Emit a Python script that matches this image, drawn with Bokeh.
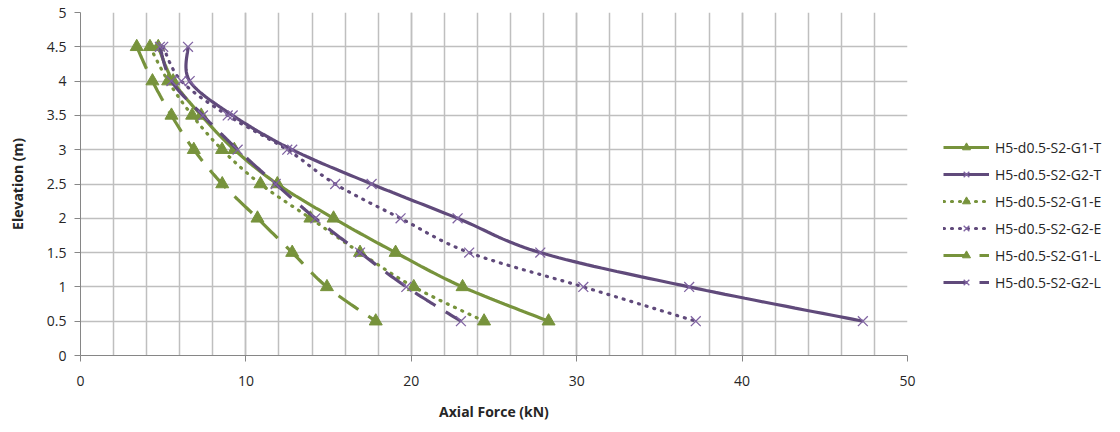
import numpy as np
from bokeh.plotting import figure
from bokeh.models import Legend, LegendItem, SingleIntervalTicker
from bokeh.embed import file_html
from bokeh.resources import INLINE

elev = [4.5, 4.0, 3.5, 3.0, 2.5, 2.0, 1.5, 1.0, 0.5]

g1_t = [4.7, 5.6, 7.3, 9.3, 11.9, 15.3, 19.05, 23.1, 28.3]
g2_t = [6.5, 6.6, 9.2, 12.8, 17.6, 22.8, 27.8, 36.8, 47.3]
g1_e = [4.2, 5.3, 6.75, 8.56, 10.88, 13.9, 16.9, 20.15, 24.4]
g2_e = [5.0, 6.1, 8.9, 12.5, 15.4, 19.35, 23.5, 30.4, 37.2]
g1_l = [3.4, 4.35, 5.5, 6.85, 8.57, 10.7, 12.8, 14.9, 17.85]
g2_l = [4.8, 5.5, 7.4, 9.5, 11.8, 14.2, 16.9, 19.7, 23.0]

labels = ["H5-d0.5-S2-G1-T", "H5-d0.5-S2-G2-T", "H5-d0.5-S2-G1-E",
          "H5-d0.5-S2-G2-E", "H5-d0.5-S2-G1-L", "H5-d0.5-S2-G2-L"]

GREEN = "#77933C"
PURPLE = "#604A7B"
XCOL = "#8064A2"
FONT = "Open Sans"


def smooth(xs, ys, n=20):
    """Bezier smoothing through the points (like a spreadsheet's smoothed line)."""
    P = np.column_stack([xs, ys]).astype(float)
    m = len(P)
    out = [P[0]]
    t = np.linspace(0, 1, n + 1)[1:, None]
    for i in range(m - 1):
        p0 = P[i - 1] if i > 0 else P[i]
        p1, p2 = P[i], P[i + 1]
        p3 = P[i + 2] if i + 2 < m else P[i + 1]
        c1 = p1 + (p2 - p0) / 6.0
        c2 = p2 - (p3 - p1) / 6.0
        seg = ((1 - t) ** 3) * p1 + 3 * ((1 - t) ** 2) * t * c1 + 3 * (1 - t) * t ** 2 * c2 + t ** 3 * p2
        out.extend(seg)
    out = np.array(out)
    return out[:, 0], out[:, 1]


p = figure(frame_width=827, frame_height=343, width=1112, height=424,
           x_range=(0, 50), y_range=(0, 5),
           output_backend="svg", toolbar_location=None,
           min_border_left=80, min_border_top=12, min_border_bottom=69)
p.outline_line_color = None
p.background_fill_color = "white"

series = [
    (g1_t, GREEN, "solid", "triangle", GREEN),
    (g2_t, PURPLE, "solid", "x", XCOL),
    (g1_e, GREEN, "1 7", "triangle", GREEN),
    (g2_e, PURPLE, "1 7", "x", XCOL),
    (g1_l, GREEN, "24 12", "triangle", GREEN),
    (g2_l, PURPLE, "24 12", "x", XCOL),
]

items = []
for (xs, col, dash, mk, mcol), lab in zip(series, labels):
    sx, sy = smooth(xs, elev)
    r1 = p.line(sx, sy, line_color=col, line_width=3.2, line_dash=dash,
                line_cap="round" if dash == "1 7" else "butt")
    if mk == "triangle":
        r2 = p.scatter(xs, elev, marker="triangle", size=13, fill_color=mcol,
                       line_color=mcol, line_width=1)
    else:
        r2 = p.scatter(xs, elev, marker="x", size=14, line_color=mcol, line_width=1.3)
    items.append(LegendItem(label=lab, renderers=[r1, r2]))

# axes
p.xaxis.ticker = SingleIntervalTicker(interval=10, num_minor_ticks=5)
p.yaxis.ticker = SingleIntervalTicker(interval=0.5, num_minor_ticks=0)
p.yaxis.major_label_overrides = {0: "0", 1: "1", 2: "2", 3: "3", 4: "4", 5: "5"}
for ax in (p.xaxis, p.yaxis):
    ax.axis_line_color = "#868686"
    ax.axis_line_width = 1
    ax.major_tick_line_color = "#868686"
    ax.major_tick_out = 6
    ax.major_tick_in = 0
    ax.minor_tick_line_color = None
    ax.major_label_text_font = FONT
    ax.major_label_text_font_size = "14px"
    ax.major_label_text_color = "#262626"
    ax.axis_label_text_font = FONT
    ax.axis_label_text_font_size = "14px"
    ax.axis_label_text_font_style = "bold"
    ax.axis_label_text_color = "#262626"
p.xaxis.axis_label = "Axial Force (kN)"
p.yaxis.axis_label = "Elevation (m)"
p.xaxis.major_label_standoff = 14
p.xaxis.axis_label_standoff = 13
p.yaxis.major_label_standoff = 8
p.yaxis.axis_label_standoff = 17

p.xgrid.grid_line_color = "#BFBFBF"
p.xgrid.grid_line_width = 1.5
p.xgrid.minor_grid_line_color = "#BFBFBF"
p.xgrid.minor_grid_line_width = 1.5
p.ygrid.grid_line_color = "#BFBFBF"
p.ygrid.grid_line_width = 1.5

legend = Legend(items=items, location=(36, 63), orientation="vertical",
                label_text_font=FONT, label_text_font_size="14px",
                label_text_color="#262626", glyph_width=46, glyph_height=20,
                label_height=20, spacing=7, label_standoff=6,
                border_line_color=None, background_fill_alpha=0, padding=10,
                margin=0)
p.add_layout(legend, "right")

open("out.html", "w").write(file_html(p, INLINE))
